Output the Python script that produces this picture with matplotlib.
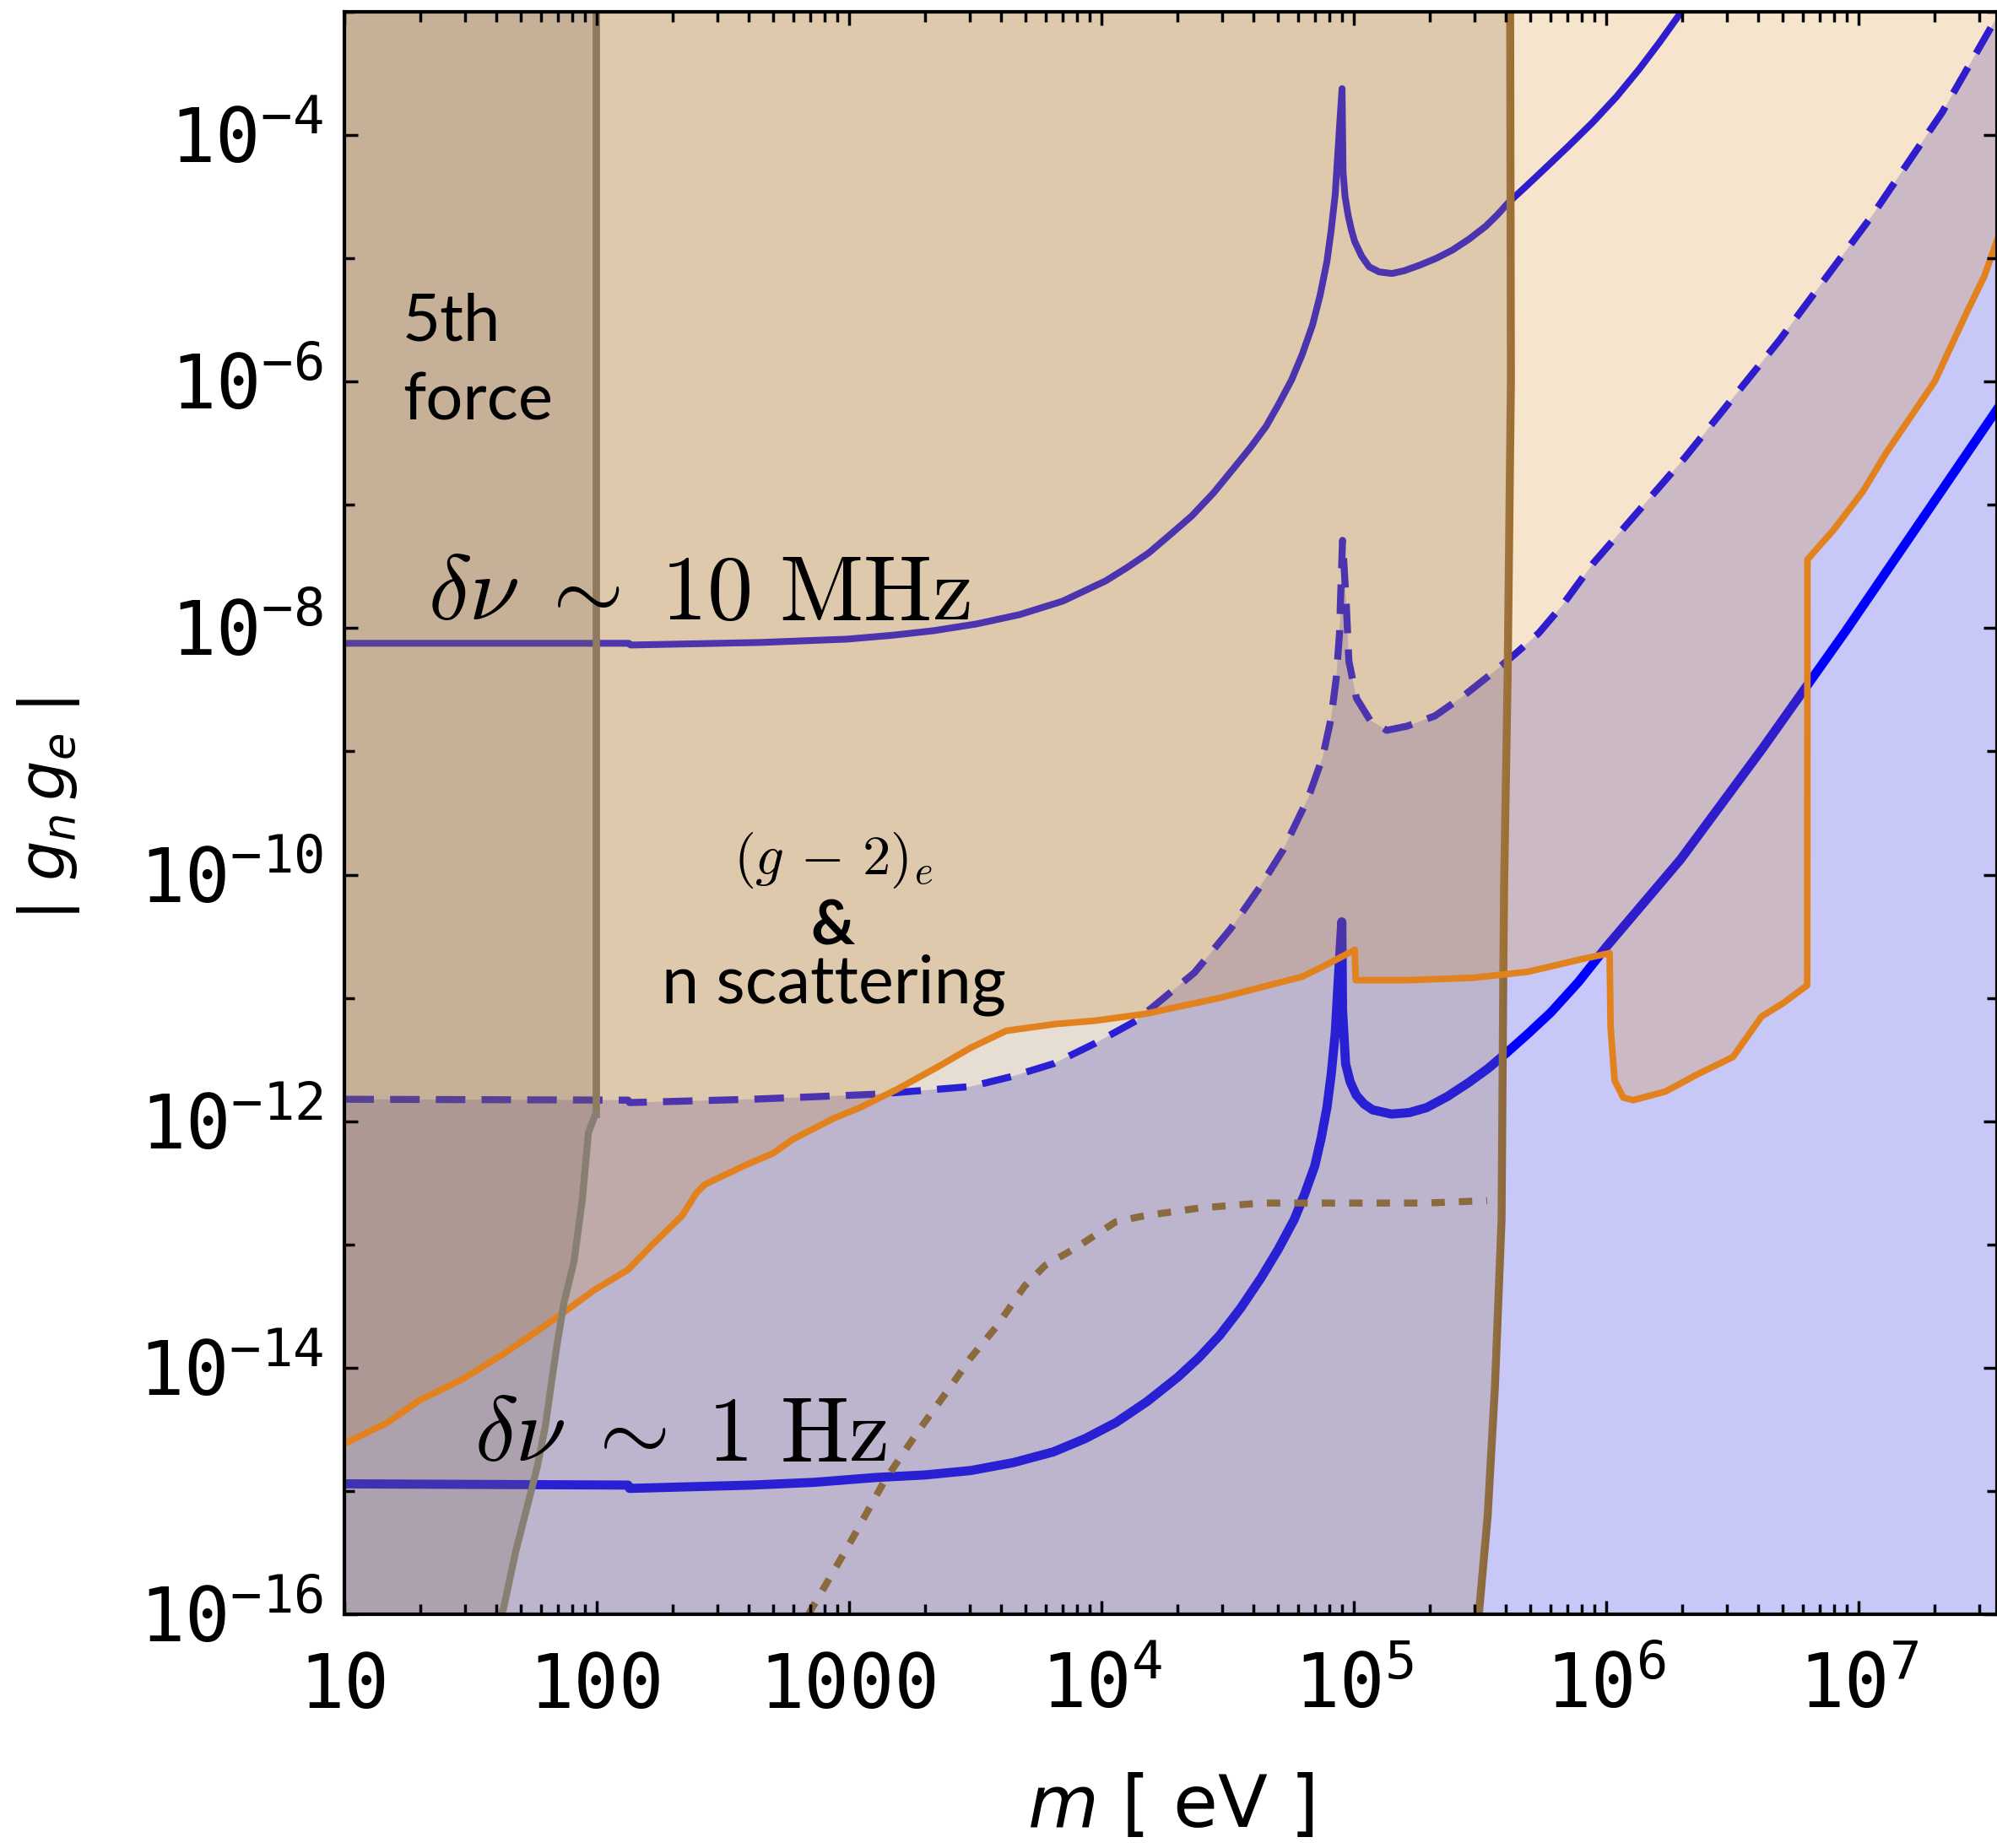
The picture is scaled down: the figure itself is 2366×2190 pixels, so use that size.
import numpy as np
import matplotlib
matplotlib.use("Agg")
import matplotlib.pyplot as plt
import matplotlib.transforms as mtransforms
from matplotlib.ticker import FixedLocator, LogLocator, NullFormatter

plt.rcParams['mathtext.fontset'] = 'custom'
plt.rcParams['mathtext.rm'] = 'DejaVu Sans Mono'
plt.rcParams['mathtext.it'] = 'DejaVu Sans:italic'
plt.rcParams['mathtext.bf'] = 'DejaVu Sans:bold'

# all curves as log10(m / eV) and log10|g_n g_e|

# delta nu ~ 10 MHz (solid, top)
upper_lm = [1.000, 2.127, 2.134, 2.652, 2.993, 3.170, 3.334, 3.505, 3.676, 3.846,
            4.017, 4.100, 4.187, 4.270, 4.358, 4.445, 4.528, 4.590, 4.652, 4.700,
            4.753, 4.795, 4.836, 4.866, 4.893, 4.910, 4.926, 4.943, 4.953, 4.957,
            4.965, 4.977, 4.990, 5.003, 5.030, 5.060, 5.100, 5.151, 5.200, 5.261,
            5.326, 5.391, 5.457, 5.522, 5.567, 5.612, 5.685, 5.759, 5.850, 5.946,
            6.040, 6.130, 6.210, 6.288, 6.316]
upper_lg = [-8.123, -8.123, -8.137, -8.116, -8.089, -8.058, -8.021, -7.966, -7.890, -7.781,
            -7.616, -7.510, -7.390, -7.245, -7.089, -6.900, -6.692, -6.535, -6.363, -6.190,
            -5.986, -5.780, -5.541, -5.300, -5.027, -4.770, -4.479, -3.932, -3.623, -4.301,
            -4.500, -4.651, -4.770, -4.863, -4.980, -5.068, -5.110, -5.123, -5.100, -5.055,
            -5.000, -4.932, -4.843, -4.740, -4.650, -4.548, -4.410, -4.267, -4.090, -3.897,
            -3.690, -3.466, -3.250, -3.027, -2.950]

# dashed sensitivity curve
dash_lm = [1.000, 2.124, 2.130, 2.615, 3.107, 3.482, 3.645, 3.809, 3.973, 4.137,
           4.368, 4.512, 4.629, 4.719, 4.819, 4.876, 4.910, 4.930, 4.943, 4.948,
           4.955, 4.970, 4.980, 5.010, 5.064, 5.130, 5.211, 5.321, 5.431, 5.545,
           5.645, 5.732, 5.823, 5.946, 6.314, 6.686, 7.054, 7.331, 7.548]
dash_lg = [-11.822, -11.829, -11.849, -11.822, -11.781, -11.719, -11.637, -11.534, -11.370, -11.185,
           -10.795, -10.438, -10.096, -9.801, -9.377, -9.048, -8.726, -8.404, -8.041, -7.699,
           -7.288, -7.815, -8.267, -8.568, -8.747, -8.829, -8.795, -8.712, -8.555, -8.370,
           -8.199, -8.041, -7.822, -7.479, -6.610, -5.664, -4.651, -3.815, -3.041]

# delta nu ~ 1 Hz (thick solid, bottom)
low_lm = [1.000, 2.124, 2.130, 2.615, 2.860, 3.109, 3.300, 3.482, 3.650, 3.809,
          3.935, 4.057, 4.180, 4.303, 4.385, 4.467, 4.550, 4.632, 4.700, 4.763,
          4.805, 4.845, 4.870, 4.893, 4.910, 4.926, 4.940, 4.952, 4.955, 4.967,
          4.985, 5.009, 5.040, 5.074, 5.149, 5.220, 5.288, 5.370, 5.453, 5.530,
          5.601, 5.690, 5.781, 5.890, 6.000, 6.294, 6.620, 6.946, 7.274, 7.548]
low_lg = [-14.942, -14.952, -14.979, -14.952, -14.930, -14.890, -14.870, -14.834, -14.770, -14.683,
          -14.575, -14.445, -14.275, -14.075, -13.920, -13.740, -13.520, -13.271, -13.040, -12.799,
          -12.590, -12.362, -12.140, -11.890, -11.620, -11.286, -10.781, -10.383, -11.100, -11.534,
          -11.680, -11.788, -11.860, -11.908, -11.942, -11.930, -11.890, -11.800, -11.689, -11.575,
          -11.452, -11.290, -11.116, -10.870, -10.586, -9.877, -8.973, -8.031, -7.048, -6.226]

# (g-2)_e & n scattering bound (orange)
or_lm = [1.000, 1.171, 1.301, 1.465, 1.629, 1.763, 1.876, 1.990, 2.124, 2.221,
         2.338, 2.395, 2.428, 2.582, 2.699, 2.779, 2.943, 3.043, 3.191, 3.355,
         3.482, 3.622, 3.816, 3.973, 4.171, 4.468, 4.793, 4.876, 5.003, 5.007,
         5.214, 5.475, 5.689, 5.903, 6.013, 6.017, 6.033, 6.067, 6.107, 6.234,
         6.358, 6.502, 6.615, 6.702, 6.796, 6.797, 6.849, 6.900, 7.017, 7.110,
         7.194, 7.301, 7.425, 7.498, 7.548]
or_lg = [-14.616, -14.445, -14.260, -14.096, -13.890, -13.705, -13.541, -13.370, -13.205, -13.000,
         -12.767, -12.582, -12.514, -12.363, -12.260, -12.144, -11.973, -11.890, -11.740, -11.555,
         -11.404, -11.267, -11.212, -11.185, -11.130, -11.000, -10.829, -10.747, -10.610, -10.856,
         -10.856, -10.836, -10.788, -10.685, -10.637, -11.240, -11.671, -11.808, -11.829, -11.760,
         -11.623, -11.479, -11.151, -11.041, -10.897, -7.445, -7.322, -7.205, -6.890, -6.575,
         -6.322, -6.000, -5.452, -5.144, -4.856]

# brown boundary near 4e5 eV
b_lm = [5.619, 5.622, 5.609, 5.595, 5.592, 5.585, 5.559, 5.530, 5.495]
b_lg = [-3.0, -6.0, -8.4, -10.1, -10.8, -12.8, -14.14, -15.2, -16.0]

# 5th force boundary
f_lm = [1.995, 1.995, 1.967, 1.943, 1.910, 1.870, 1.843, 1.819, 1.796, 1.763,
        1.721, 1.679, 1.630, 1.619]
f_lg = [-3.0, -11.942, -12.092, -12.630, -13.137, -13.473, -13.808, -14.144, -14.479, -14.815,
        -15.154, -15.490, -15.959, -16.0]

# dotted brown curve
d_lm = [2.839, 2.993, 3.140, 3.274, 3.405, 3.482, 3.582, 3.696, 3.776, 3.893,
        4.057, 4.171, 4.385, 4.632, 4.960, 5.288, 5.528]
d_lg = [-16.0, -15.459, -14.918, -14.514, -14.144, -13.918, -13.671, -13.336, -13.171, -13.034,
        -12.815, -12.767, -12.705, -12.664, -12.664, -12.664, -12.644]

xtick_exp = [1, 2, 3, 4, 5, 6, 7]
xtick_labels = ['10', '100', '1000', r'$10^{4}$', r'$10^{5}$', r'$10^{6}$', r'$10^{7}$']
ytick_exp = [-16, -14, -12, -10, -8, -6, -4]
ytick_labels = [r'$10^{%d}$' % e for e in ytick_exp]
yminor_exp = [-15, -13, -11, -9, -7, -5, -3]

XMIN, XMAX = 1.0, 7.548
YMIN, YMAX = -16.0, -3.0


def pw(a):
    return 10.0 ** np.asarray(a, dtype=float)


W, H = 2366, 2190
fig = plt.figure(figsize=(W / 100, H / 100), dpi=100)
ax = fig.add_axes([408 / W, (H - 1913) / H, (W - 408) / W, (1913 - 14) / H])
ax.set_xscale('log')
ax.set_yscale('log')
ax.set_xlim(pw(XMIN), pw(XMAX))
ax.set_ylim(pw(YMIN), pw(YMAX))

# region below the dashed curve
ax.fill(pw(dash_lm + [XMAX, XMIN]), pw(dash_lg + [YMIN, YMIN]),
        color='#c8c8f8', lw=0, zorder=1.0)

# sensitivity lines
ax.plot(pw(upper_lm), pw(upper_lg), color='#0000ff', lw=5.8, zorder=1.1)
ax.plot(pw(dash_lm), pw(dash_lg), color='#0000ff', lw=6, ls=(0, (4.2, 2.3)), zorder=1.1)
ax.plot(pw(low_lm), pw(low_lg), color='#0000ff', lw=7.8, zorder=1.1)
ax.plot(pw(b_lm), pw(b_lg), color='#8c6a3c', lw=6.8, zorder=1.15)

# excluded regions (translucent)
ax.fill(pw(or_lm + [XMAX, XMIN]), pw(or_lg + [YMAX, YMAX]),
        color='#da8417', alpha=0.22, lw=0, zorder=1.2)
ax.fill(pw(b_lm + [XMIN, XMIN]), pw(b_lg + [YMIN, YMAX]),
        color='#9f7c56', alpha=0.26, lw=0, zorder=1.3)
ax.fill(pw(f_lm + [XMIN, XMIN]), pw(f_lg + [YMIN, YMAX]),
        color='#7e6957', alpha=0.25, lw=0, zorder=1.4)

ax.plot(pw(or_lm), pw(or_lg), color='#e2821f', lw=5.6, zorder=1.5)
ax.plot(pw(d_lm), pw(d_lg), color='#8b6a3e', lw=6, ls=(0, (1.9, 2.0)), zorder=1.5)
ax.plot(pw(f_lm[:2]), pw(f_lg[:2]), color='#8f7a5e', lw=6.3, zorder=1.5)
ax.plot(pw(f_lm[1:]), pw(f_lg[1:]), color='#878072', lw=6.0, zorder=1.5)

# annotations
ax.text(pw(1.231), pw(-5.664), '5th', fontsize=56, family='Lato', ha='left', va='baseline')
ax.text(pw(1.231), pw(-6.308), 'force', fontsize=56, family='Lato', ha='left', va='baseline')
ax.text(pw(1.33), pw(-7.932), r'$\delta\nu\;\sim\;10\ \mathrm{MHz}$', fontsize=78,
        math_fontfamily='cm', ha='left', va='baseline')
ax.text(pw(1.515), pw(-14.753), r'$\delta\nu\;\sim\;1\ \mathrm{Hz}$', fontsize=78,
        math_fontfamily='cm', ha='left', va='baseline')
ax.text(pw(2.936), pw(-9.993), r'$(g\,-\,2)_e$', fontsize=48, math_fontfamily='cm',
        ha='center', va='baseline')
ax.text(pw(2.936), pw(-10.568), '&', fontsize=52, family='Lato', fontweight='bold',
        ha='center', va='baseline')
ax.text(pw(2.938), pw(-11.041), 'n scattering', fontsize=57, family='Lato',
        ha='center', va='baseline')

# axes, ticks
for sp in ax.spines.values():
    sp.set_linewidth(3)

ax.set_xticks(pw(xtick_exp), xtick_labels)
ax.xaxis.set_minor_locator(LogLocator(base=10, subs=np.arange(2, 10), numticks=50))
ax.xaxis.set_minor_formatter(NullFormatter())
ax.set_yticks(pw(ytick_exp), ytick_labels)
ax.yaxis.set_minor_locator(FixedLocator(pw(yminor_exp)))
ax.yaxis.set_minor_formatter(NullFormatter())

ax.tick_params(which='both', direction='in', top=True, right=True, width=2.5, colors='black')
ax.tick_params(which='major', length=11.5)
ax.tick_params(which='minor', length=8.6)
ax.tick_params(axis='x', which='major', pad=80, labelsize=64)
ax.tick_params(axis='y', which='major', pad=18, labelsize=64)

for lab in ax.get_xticklabels():
    lab.set_fontfamily('DejaVu Sans Mono')
    lab.set_va('baseline')
shift = mtransforms.ScaledTranslation(0, -0.33, fig.dpi_scale_trans)
for lab in ax.get_yticklabels():
    lab.set_fontfamily('DejaVu Sans Mono')
    lab.set_va('baseline')
    lab.set_transform(lab.get_transform() + shift)

ax.set_xlabel(r'$m$ [ eV ]', fontsize=62, family='DejaVu Sans')
ax.xaxis.set_label_coords(0.5, -0.0985)
ax.set_ylabel(r'$|\,g_n\,g_e\,|$', fontsize=54)
ax.yaxis.set_label_coords(-0.159, 0.5)

fig.savefig('out.png', dpi=100)
